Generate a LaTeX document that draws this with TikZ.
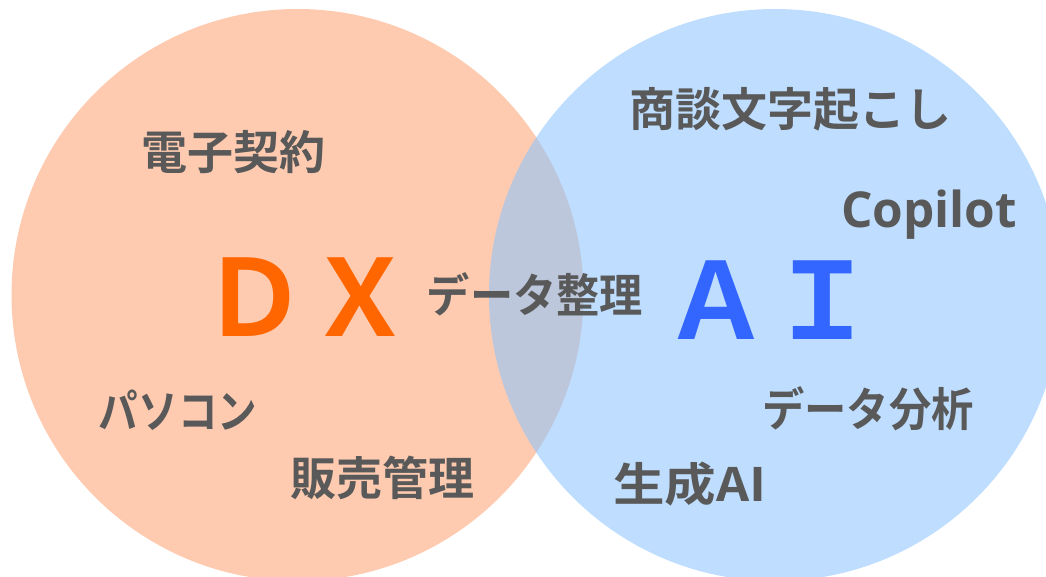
\documentclass[tikz,border=0pt]{standalone}
\usepackage{fontspec}
\usepackage{graphicx}
\newfontfamily\jp{Noto Sans CJK JP Bold}
\newfontfamily\lat{Open Sans Bold}
\definecolor{peach}{RGB}{255,203,176}
\definecolor{skyb}{RGB}{140,196,255}
\definecolor{txtgray}{RGB}{89,89,89}
\definecolor{dxorange}{RGB}{255,102,0}
\definecolor{aiblue}{RGB}{51,102,255}
\begin{document}
\begin{tikzpicture}[x=1pt,y=-1pt,
  lbl/.style={inner sep=0pt, text=txtgray, font=\jp\fontsize{46}{50}\selectfont},
  big/.style={inner sep=0pt, font=\jp\fontsize{106}{110}\selectfont}]
\useasboundingbox (0,0) rectangle (1046,576);
\begin{scope}
\clip (0,0) rectangle (1046,576);
\fill[peach] (297.5,295) circle[radius=286];
\fill[skyb, fill opacity=0.57] (775,295) circle[radius=286];
\end{scope}
\node[lbl] (t1) at (233,152) {電子契約};
\node[lbl] (t2) at (790,109) {商談文字起こし};
\node[inner sep=0pt, text=txtgray, font=\lat\fontsize{49.5}{52}\selectfont] (t3) at (929,215) {Copilot};
\node[big, text=dxorange] (dx) at (307,297) {ＤＸ};
\node[lbl] (t4) at (535,294) {\scalebox{0.94}[1]{データ整理}};
\node[big, text=aiblue] (ai) at (769,300) {ＡＩ};
\node[lbl] (t5) at (178,410) {\scalebox{0.86}[1]{パソコン}};
\node[lbl] (t6) at (868,409) {\scalebox{0.92}[1]{データ分析}};
\node[lbl] (t7) at (382,478) {販売管理};
\node[lbl] (t8) at (690,484) {\scalebox{1.12}[1]{生成AI}};
\end{tikzpicture}
\end{document}
